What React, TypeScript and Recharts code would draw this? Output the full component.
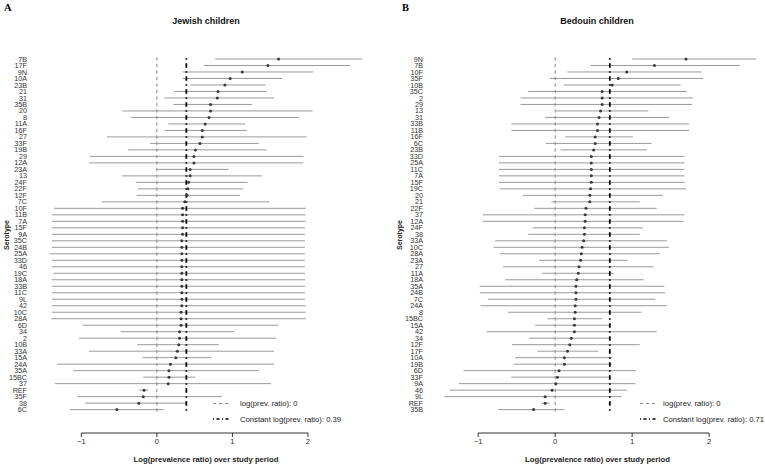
import React from 'react';
import { ComposedChart, Scatter, ErrorBar, XAxis, YAxis, ReferenceLine } from 'recharts';

// Panel A: Jewish children
const jewishSerotypes = [
  '7B', '17F', '9N', '10A', '23B', '21', '31', '35B', '20', '8', '11A', '16F', '27', '33F', '19B',
  '29', '12A', '23A', '13', '24F', '22F', '12F', '7C', '10F', '11B', '7A', '15F', '9A', '35C', '24B',
  '25A', '33D', '46', '19C', '18A', '33B', '11C', '9L', '42', '10C', '28A', '6D', '34', '2', '10B',
  '33A', '15A', '24A', '35A', '15BC', '37', 'REF', '35F', '38', '6C',
];
const jewishEst = [
  1.61, 1.47, 1.13, 0.97, 0.9, 0.81, 0.8, 0.71, 0.71, 0.69, 0.64, 0.6, 0.6, 0.57, 0.51,
  0.49, 0.49, 0.44, 0.44, 0.42, 0.41, 0.4, 0.37, 0.34, 0.34, 0.34, 0.34, 0.34, 0.33, 0.33,
  0.33, 0.33, 0.33, 0.33, 0.33, 0.33, 0.33, 0.33, 0.33, 0.32, 0.32, 0.32, 0.3, 0.3, 0.29,
  0.27, 0.25, 0.18, 0.16, 0.16, 0.15, -0.17, -0.18, -0.24, -0.53,
];
const jewishLo = [
  0.77, 0.62, 0.34, 0.34, 0.44, 0.23, 0.1, 0.22, -0.46, -0.34, 0.15, 0.1, -0.66, -0.09, -0.38,
  -0.89, -0.9, 0.0, -0.46, -0.28, -0.25, -0.27, -0.73, -1.36, -1.39, -1.39, -1.39, -1.39, -1.39, -1.39,
  -1.42, -1.39, -1.39, -1.37, -1.39, -1.39, -1.39, -1.39, -1.39, -1.39, -1.4, -0.98, -0.48, -1.03, -0.26,
  -0.9, -0.19, -1.32, -1.11, -0.18, -1.35, -0.24, -1.05, -0.95, -1.15,
];
const jewishHi = [
  2.72, 2.56, 2.07, 1.66, 1.44, 1.45, 1.55, 1.26, 2.06, 1.88, 1.17, 1.19, 1.98, 1.35, 1.45,
  1.94, 1.94, 0.95, 1.39, 1.2, 1.14, 1.1, 1.49, 1.97, 1.97, 1.97, 1.96, 1.96, 1.96, 1.96,
  1.96, 1.96, 1.96, 1.96, 1.96, 1.96, 1.96, 1.96, 1.97, 1.97, 1.97, 1.61, 1.02, 1.58, 0.82,
  1.55, 0.72, 1.55, 1.35, 0.51, 1.51, -0.11, 0.86, 0.39, 0.09,
];
const jewishConstant = 0.39;

// Panel B: Bedouin children
const bedouinSerotypes = [
  '9N', '7B', '10F', '35F', '10B', '35C', '2', '29', '13', '31', '33B', '11B', '16F', '6C', '23B',
  '33D', '25A', '11C', '7A', '15F', '19C', '20', '21', '22F', '37', '12A', '24F', '38', '33A', '10C',
  '28A', '23A', '27', '11A', '18A', '35A', '24B', '7C', '24A', '8', '15BC', '15A', '42', '34', '12F',
  '17F', '10A', '19B', '6D', '33F', '9A', '46', '9L', 'REF', '35B',
];
const bedouinEst = [
  1.7, 1.29, 0.93, 0.82, 0.74, 0.61, 0.61, 0.61, 0.59, 0.57, 0.55, 0.55, 0.52, 0.52, 0.5,
  0.47, 0.47, 0.47, 0.47, 0.47, 0.46, 0.45, 0.45, 0.4, 0.39, 0.39, 0.38, 0.38, 0.37, 0.35,
  0.34, 0.33, 0.31, 0.3, 0.28, 0.27, 0.27, 0.27, 0.26, 0.26, 0.25, 0.25, 0.25, 0.21, 0.19,
  0.16, 0.12, 0.12, 0.05, 0.03, 0.01, -0.04, -0.13, -0.13, -0.28,
];
const bedouinLo = [
  1.0, 0.46, 0.16, -0.07, 0.11, -0.35, -0.45, -0.45, 0.01, -0.13, -0.57, -0.57, 0.13, -0.12, 0.07,
  -0.73, -0.73, -0.73, -0.73, -0.73, -0.72, -0.42, -0.05, -0.27, -0.94, -0.94, -0.29, -0.35, -0.78, -0.8,
  -0.72, -0.21, -0.68, -0.17, -0.65, -0.98, -0.98, -0.87, -0.97, -0.61, -0.1, -0.26, -0.89, -0.34, -0.56,
  -0.23, -0.52, -0.54, -1.19, -0.57, -1.25, -1.37, -1.44, -0.18, -0.74,
];
const bedouinHi = [
  2.61, 2.4, 1.9, 1.92, 1.63, 1.71, 1.79, 1.78, 1.21, 1.48, 1.74, 1.74, 1.01, 1.25, 1.19,
  1.68, 1.68, 1.68, 1.68, 1.68, 1.7, 1.4, 1.1, 1.32, 1.68, 1.67, 1.14, 1.1, 1.45, 1.48,
  1.36, 0.94, 1.28, 0.76, 1.15, 1.42, 1.43, 1.3, 1.45, 1.12, 0.61, 0.72, 1.32, 0.72, 1.1,
  0.56, 0.74, 0.74, 1.05, 0.71, 1.04, 0.93, 0.86, -0.07, 0.12,
];
const bedouinConstant = 0.71;

const xTicks = [-1, 0, 1, 2];

const FONT = '"Liberation Sans", Arial, Helvetica, sans-serif';
const Y_BOTTOM = 57.6;

function buildRows(names: string[], est: number[], lo: number[], hi: number[]) {
  return names.map((name, i) => ({
    idx: i,
    name,
    est: est[i],
    err: [est[i] - lo[i], hi[i] - est[i]],
  }));
}

const fmtX = (v: number) => (v < 0 ? '\u2212' + Math.abs(v) : String(v));

const Dot = (p: any) => <circle cx={p.cx} cy={p.cy} r={1.5} fill="#3a3a3a" />;

function ForestPanel({ names, est, lo, hi, constant, domain, yWidth, right }: any) {
  const rows = buildRows(names, est, lo, hi);
  const last = rows.length - 0.5;
  return (
    <ComposedChart
      width={382}
      height={464}
      data={rows}
      margin={{ top: 55.75, right, bottom: 0, left: 0 }}
    >
      <XAxis
        type="number"
        dataKey="est"
        domain={domain}
        allowDataOverflow
        ticks={xTicks}
        tickFormatter={fmtX}
        axisLine={false}
        tickSize={4}
        tickLine={{ stroke: '#333' }}
        tick={{ fontSize: 7.7, fill: '#333', fontFamily: FONT }}
        height={31}
        label={{
          value: 'Log(prevalence ratio) over study period',
          position: 'insideBottom',
          offset: 2,
          style: { fontSize: 7.7, fontWeight: 'bold', fill: '#222', fontFamily: FONT },
        }}
      />
      <YAxis
        type="number"
        dataKey="idx"
        domain={[-0.5, Y_BOTTOM]}
        allowDataOverflow
        reversed
        ticks={rows.map((r) => r.idx)}
        interval={0}
        tickFormatter={(i: number) => names[i] ?? ''}
        axisLine={false}
        tickLine={false}
        tickSize={0}
        tickMargin={9}
        width={yWidth}
        tick={{ fontSize: 7.2, fill: '#333', fontFamily: FONT }}
      />
      <ReferenceLine
        segment={[{ x: -1, y: Y_BOTTOM }, { x: 2, y: Y_BOTTOM }]}
        stroke="#333"
        strokeWidth={1}
        ifOverflow="visible"
      />
      <Scatter data={rows} shape={Dot} isAnimationActive={false}>
        <ErrorBar dataKey="err" direction="x" width={0} stroke="#9a9a9a" strokeWidth={1} isAnimationActive={false} />
      </Scatter>
      <ReferenceLine
        segment={[{ x: 0, y: -0.5 }, { x: 0, y: last }]}
        stroke="#8a8a8a"
        strokeWidth={1}
        strokeDasharray="3.5 3"
        strokeDashoffset={5}
        ifOverflow="visible"
      />
      <ReferenceLine
        segment={[{ x: constant, y: -0.5 }, { x: constant, y: last }]}
        stroke="#000"
        strokeWidth={1.8}
        strokeDasharray="1.5 3.5 4.5 3.5"
        strokeDashoffset={10.5}
        ifOverflow="visible"
      />
    </ComposedChart>
  );
}

function LegendBox({ x, textX, constant }: { x: number; textX: number; constant: number }) {
  return (
    <g fontFamily={FONT} fontSize={7.7}>
      <line x1={x} x2={x + 17} y1={403.5} y2={403.5} stroke="#8a8a8a" strokeDasharray="3 3" />
      <text x={textX} y={403.5} dominantBaseline="central" fill="#222">log(prev. ratio): 0</text>
      <line x1={x} x2={x + 17} y1={419} y2={419} stroke="#000" strokeWidth={1.3} strokeDasharray="1 2.5 3 2.5" />
      <text x={textX} y={419} dominantBaseline="central" fill="#222">Constant log(prev. ratio): {constant}</text>
    </g>
  );
}

export default function App() {
  return (
    <div style={{ position: 'absolute', left: 0, top: 0, width: 765, height: 464, background: '#fff', overflow: 'hidden' }}>
      <div style={{ position: 'absolute', left: 0, top: 0 }}>
        <ForestPanel
          names={jewishSerotypes}
          est={jewishEst}
          lo={jewishLo}
          hi={jewishHi}
          constant={jewishConstant}
          domain={[-1.6, 2.9]}
          yWidth={36}
          right={6}
        />
      </div>
      <div style={{ position: 'absolute', left: 383, top: 0 }}>
        <ForestPanel
          names={bedouinSerotypes}
          est={bedouinEst}
          lo={bedouinLo}
          hi={bedouinHi}
          constant={bedouinConstant}
          domain={[-1.6, 2.7]}
          yWidth={49}
          right={2}
        />
      </div>
      <svg width={765} height={464} style={{ position: 'absolute', left: 0, top: 0, pointerEvents: 'none' }}>
        <text x={4} y={11} fontFamily='"Liberation Serif", "DejaVu Serif", serif' fontWeight="bold" fontSize={10.5} fill="#000">A</text>
        <text x={402} y={11} fontFamily='"Liberation Serif", "DejaVu Serif", serif' fontWeight="bold" fontSize={10.5} fill="#000">B</text>
        <text x={206} y={21} textAnchor="middle" dominantBaseline="central" fontFamily={FONT} fontWeight="bold" fontSize={9} fill="#111">Jewish children</text>
        <text x={597} y={21} textAnchor="middle" dominantBaseline="central" fontFamily={FONT} fontWeight="bold" fontSize={9} fill="#111">Bedouin children</text>
        <text x={6} y={235} transform="rotate(-90 6 235)" textAnchor="middle" dominantBaseline="central" fontFamily={FONT} fontWeight="bold" fontSize={7} fill="#222">Serotype</text>
        <text x={399} y={235} transform="rotate(-90 399 235)" textAnchor="middle" dominantBaseline="central" fontFamily={FONT} fontWeight="bold" fontSize={7} fill="#222">Serotype</text>
        <LegendBox x={213} textX={240} constant={jewishConstant} />
        <LegendBox x={640} textX={663} constant={bedouinConstant} />
      </svg>
    </div>
  );
}
